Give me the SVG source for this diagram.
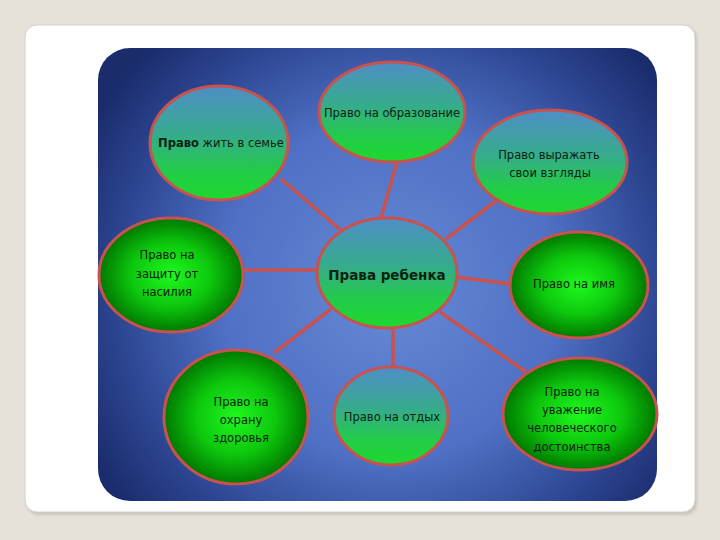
<svg xmlns="http://www.w3.org/2000/svg" width="720" height="540" viewBox="0 0 720 540">
<defs>
<radialGradient id="bg" cx="390" cy="290" r="340" gradientUnits="userSpaceOnUse">
<stop offset="0" stop-color="#6689d6"/>
<stop offset="0.5" stop-color="#4f70c4"/>
<stop offset="0.8" stop-color="#2d4692"/>
<stop offset="1" stop-color="#1a2c6c"/>
</radialGradient>
<linearGradient id="lg" x1="0" y1="0" x2="0" y2="1">
<stop offset="0" stop-color="#4f8ec8"/>
<stop offset="0.45" stop-color="#35ad88"/>
<stop offset="0.75" stop-color="#22cc48"/>
<stop offset="1" stop-color="#1ed82e"/>
</linearGradient>
<radialGradient id="rg" cx="0.5" cy="0.5" r="0.5">
<stop offset="0" stop-color="#1ef81e"/>
<stop offset="0.55" stop-color="#0dc80d"/>
<stop offset="1" stop-color="#007800"/>
</radialGradient>
<filter id="sh" x="-5%" y="-5%" width="110%" height="110%">
<feGaussianBlur stdDeviation="1.5"/>
</filter>
</defs>
<style>
.lin{fill:url(#lg);stroke:#c8524e;stroke-width:3}
.rad{fill:url(#rg);stroke:#c8524e;stroke-width:3}
.con line{stroke:#c8524e;stroke-width:3.5}
text{font-family:"DejaVu Sans","Liberation Sans",sans-serif;fill:#0a2210;text-anchor:middle;font-size:11.5px}
.b{font-weight:bold}
.ctr{font-size:13.5px;font-weight:bold}
</style>
<rect x="0" y="0" width="720" height="540" fill="#e6e1d9"/>
<rect x="27" y="27" width="670" height="488" rx="12" fill="#c9c4bc" filter="url(#sh)"/>
<rect x="25" y="25" width="670" height="487" rx="12" fill="#ffffff" stroke="#d2d0cc" stroke-width="1"/>
<rect x="98" y="48" width="559" height="453" rx="32" fill="url(#bg)"/>
<g id="connectors" class="con">
<line x1="281" y1="179" x2="342" y2="231"/>
<line x1="397" y1="162" x2="381" y2="218"/>
<line x1="497" y1="200" x2="446" y2="239"/>
<line x1="243" y1="270" x2="318" y2="270"/>
<line x1="456" y1="277" x2="511" y2="284"/>
<line x1="274" y1="353" x2="331" y2="309"/>
<line x1="393" y1="327" x2="393" y2="368"/>
<line x1="440" y1="312" x2="526" y2="372"/>
</g>
<g id="center">
<ellipse class="lin" cx="387" cy="273" rx="70" ry="55"/>
<text class="ctr" x="387" y="280">Права ребенка</text>
</g>
<g id="family">
<ellipse class="lin" cx="219" cy="143" rx="69" ry="57"/>
<text x="221" y="147"><tspan class="b">Право</tspan> жить в семье</text>
</g>
<g id="education">
<ellipse class="lin" cx="392" cy="112" rx="73" ry="50"/>
<text x="392" y="117">Право на образование</text>
</g>
<g id="views">
<ellipse class="lin" cx="550" cy="162" rx="77" ry="52"/>
<text x="549" y="159">Право выражать</text>
<text x="550" y="177">свои взгляды</text>
</g>
<g id="violence">
<ellipse class="rad" cx="171" cy="275" rx="72" ry="57"/>
<text x="167" y="259">Право на</text>
<text x="167" y="278">защиту от</text>
<text x="167" y="296">насилия</text>
</g>
<g id="name">
<ellipse class="rad" cx="579" cy="285" rx="69" ry="53"/>
<text x="574" y="288">Право на имя</text>
</g>
<g id="health">
<ellipse class="rad" cx="236" cy="417" rx="72" ry="67"/>
<text x="241" y="406">Право на</text>
<text x="241" y="424">охрану</text>
<text x="241" y="442">здоровья</text>
</g>
<g id="rest">
<ellipse class="lin" cx="391" cy="416" rx="57" ry="49"/>
<text x="392" y="421">Право на отдых</text>
</g>
<g id="dignity">
<ellipse class="rad" cx="580" cy="414" rx="77" ry="56"/>
<text x="572" y="396">Право на</text>
<text x="572" y="414">уважение</text>
<text x="572" y="432">человеческого</text>
<text x="572" y="451">достоинства</text>
</g>
</svg>
